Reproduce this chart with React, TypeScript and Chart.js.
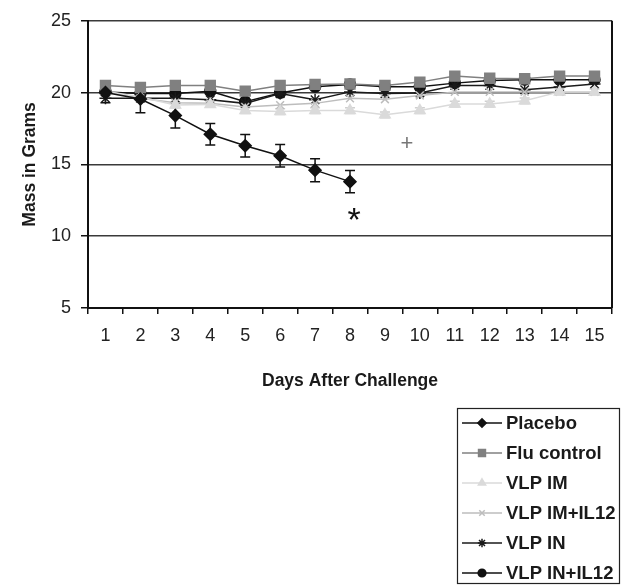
import React, { useEffect, useRef } from 'react';
import { Chart, registerables } from 'chart.js';
import { drawPoint } from 'chart.js/helpers';

Chart.register(...registerables);

const FONT = '"Liberation Sans", Arial, Helvetica, sans-serif';

const days = ['1', '2', '3', '4', '5', '6', '7', '8', '9', '10', '11', '12', '13', '14', '15'];

const placebo = [20.0, 19.55, 18.4, 17.1, 16.3, 15.6, 14.6, 13.8, null, null, null, null, null, null, null];
const placeboErr = [0.7, 0.95, 0.87, 0.75, 0.78, 0.78, 0.8, 0.77, 0, 0, 0, 0, 0, 0, 0];
const fluControl = [20.5, 20.35, 20.5, 20.5, 20.1, 20.5, 20.57, 20.6, 20.5, 20.73, 21.15, 21.0, 20.96, 21.15, 21.15];
const vlpIM = [20.1, 19.7, 19.13, 19.18, 18.75, 18.68, 18.75, 18.75, 18.45, 18.75, 19.2, 19.2, 19.43, 20.05, 20.05];
const vlpIMErr = [0.2, 0.2, 0.2, 0.2, 0.2, 0.2, 0.2, 0.2, 0.2, 0.2, 0.2, 0.2, 0.2, 0.2, 0.2];
const vlpIMIL12 = [20.1, 19.6, 19.3, 19.25, 19.0, 19.13, 19.25, 19.6, 19.54, 19.8, 20.05, 20.05, 20.05, 20.05, 20.05];
const vlpIN = [19.6, 19.6, 19.6, 19.5, 19.25, 19.93, 19.5, 20.05, 19.93, 19.98, 20.5, 20.5, 20.2, 20.39, 20.6];
const vlpINIL12 = [20.05, 19.93, 19.93, 20.1, 19.36, 19.98, 20.4, 20.57, 20.4, 20.4, 20.66, 20.84, 20.9, 20.9, 20.9];

const yTicks = [5, 10, 15, 20, 25];

// significance marks: text, category position, value
const noteText = ['*', '+'];
const noteDay = [7, 8.63];
const noteValue = [11.6, 16.4];

const seriesNames = ['Placebo', 'Flu control', 'VLP IM', 'VLP IM+IL12', 'VLP IN', 'VLP IN+IL12'];

export default function App() {
  const ref = useRef<HTMLCanvasElement | null>(null);

  useEffect(() => {
    const canvas = ref.current;
    if (!canvas) return;

    const errorsByDataset: (number[] | null)[] = [placeboErr, null, vlpIMErr, null, null, null];
    const errorColors = ['#111111', '', '#cfcfcf', '', '', ''];

    const errorBarPlugin = {
      id: 'errorBars',
      beforeDatasetsDraw(chart: any) {
        const ctx = chart.ctx;
        const xs = chart.scales.x;
        const ys = chart.scales.y;
        chart.data.datasets.forEach((ds: any, di: number) => {
          const errs = errorsByDataset[di];
          if (!errs) return;
          ctx.save();
          ctx.strokeStyle = errorColors[di];
          ctx.lineWidth = 1.5;
          ds.data.forEach((v: number | null, i: number) => {
            if (v === null || !errs[i]) return;
            const x = xs.getPixelForValue(i);
            const y1 = ys.getPixelForValue(v + errs[i]);
            const y2 = ys.getPixelForValue(v - errs[i]);
            ctx.beginPath();
            ctx.moveTo(x, y1);
            ctx.lineTo(x, y2);
            ctx.moveTo(x - 5, y1);
            ctx.lineTo(x + 5, y1);
            ctx.moveTo(x - 5, y2);
            ctx.lineTo(x + 5, y2);
            ctx.stroke();
          });
          ctx.restore();
        });
      },
    };

    const framePlugin = {
      id: 'frameAndNotes',
      afterDatasetsDraw(chart: any) {
        const ctx = chart.ctx;
        const xs = chart.scales.x;
        const ys = chart.scales.y;
        const area = chart.chartArea;
        ctx.save();
        ctx.strokeStyle = '#111';
        ctx.lineWidth = 2;
        ctx.beginPath();
        ctx.moveTo(area.right, area.top);
        ctx.lineTo(area.right, area.bottom);
        ctx.stroke();
        ctx.textAlign = 'center';
        ctx.textBaseline = 'middle';
        noteText.forEach((t, i) => {
          const x = xs.getPixelForValue(noteDay[i]);
          const y = ys.getPixelForValue(noteValue[i]);
          if (t === '*') {
            ctx.fillStyle = '#111';
            ctx.font = `34px ${FONT}`;
            ctx.fillText(t, x + 4, y + 8);
          } else {
            ctx.fillStyle = '#777';
            ctx.font = `300 22px ${FONT}`;
            ctx.fillText(t, x, y);
          }
        });
        ctx.restore();
      },
      afterDraw(chart: any) {
        const ctx = chart.ctx;
        ctx.save();
        const bx = 457, by = 408, bw = 163, bh = 176;
        ctx.strokeStyle = '#222';
        ctx.lineWidth = 1.2;
        ctx.strokeRect(bx + 0.5, by + 0.5, bw - 1, bh - 1);
        ctx.textAlign = 'left';
        ctx.textBaseline = 'middle';
        ctx.font = `bold 18.5px ${FONT}`;
        chart.data.datasets.forEach((ds: any, i: number) => {
          const y = by + 15 + i * 30;
          ctx.strokeStyle = ds.borderColor;
          ctx.lineWidth = 1.5;
          ctx.beginPath();
          ctx.moveTo(bx + 5, y);
          ctx.lineTo(bx + 45, y);
          ctx.stroke();
          ctx.fillStyle = ds.pointBackgroundColor;
          ctx.strokeStyle = ds.pointBorderColor;
          drawPoint(ctx, { pointStyle: ds.pointStyle, rotation: 0, radius: ds.pointRadius * 0.7, borderWidth: 1.3 }, bx + 25, y);
          ctx.fillStyle = '#1a1a1a';
          ctx.fillText(seriesNames[i], bx + 49, y + 1);
        });
        ctx.restore();
      },
    };

    const mk = (label: string, data: (number | null)[], color: string, style: string, radius: number, width = 1.5) => ({
      label,
      data,
      borderColor: color,
      backgroundColor: color,
      pointBackgroundColor: color,
      pointBorderColor: color,
      pointStyle: style,
      pointRadius: radius,
      pointBorderWidth: 1.5,
      borderWidth: width,
      tension: 0,
      spanGaps: false,
    });

    const chart = new Chart(canvas, {
      type: 'line',
      data: {
        labels: days,
        datasets: [
          mk(seriesNames[0], placebo, '#111111', 'rectRot', 6),
          mk(seriesNames[1], fluControl, '#808080', 'rect', 7),
          mk(seriesNames[2], vlpIM, '#dadada', 'triangle', 6),
          mk(seriesNames[3], vlpIMIL12, '#bdbdbd', 'crossRot', 5.5),
          mk(seriesNames[4], vlpIN, '#1a1a1a', 'star', 6),
          mk(seriesNames[5], vlpINIL12, '#111111', 'circle', 5.5),
        ] as any,
      },
      options: {
        responsive: false,
        animation: false,
        devicePixelRatio: 1,
        layout: { padding: { left: 0, right: 9, top: 16, bottom: 187 } },
        plugins: {
          legend: { display: false },
          tooltip: { enabled: false },
        },
        scales: {
          x: {
            type: 'category',
            offset: true,
            grid: {
              display: true,
              drawOnChartArea: false,
              drawTicks: true,
              tickLength: 6,
              color: '#111',
              tickColor: '#111',
              lineWidth: 1.5,
              offset: true,
            },
            border: { display: true, color: '#111', width: 2 },
            ticks: { color: '#222', font: { family: FONT, size: 18 }, padding: 11, maxRotation: 0, autoSkip: false },
            title: {
              display: true,
              text: 'Days After Challenge',
              color: '#1a1a1a',
              font: { family: FONT, size: 17.5, weight: 'bold' },
              padding: { top: 0, bottom: 6 },
            },
            afterFit: (s: any) => {
              s.height = 90;
            },
          },
          y: {
            min: 5,
            max: 25,
            afterBuildTicks: (s: any) => {
              s.ticks = yTicks.map((v) => ({ value: v }));
            },
            ticks: { color: '#222', font: { family: FONT, size: 18 }, padding: 10 },
            grid: { color: '#3a3a3a', tickColor: '#111', lineWidth: 1.5, tickLength: 7 },
            border: { display: true, color: '#111', width: 2 },
            title: {
              display: true,
              text: 'Mass in Grams',
              color: '#1a1a1a',
              font: { family: FONT, size: 17.5, weight: 'bold' },
              padding: { top: 20, bottom: 0 },
            },
            afterFit: (s: any) => {
              s.width = 88;
            },
          },
        },
      } as any,
      plugins: [errorBarPlugin, framePlugin],
    });

    return () => chart.destroy();
  }, []);

  return (
    <div style={{ position: 'absolute', left: 0, top: 0, width: 621, height: 585, background: '#fff' }}>
      <canvas ref={ref} width={621} height={585} style={{ display: 'block', width: 621, height: 585 }} />
    </div>
  );
}
